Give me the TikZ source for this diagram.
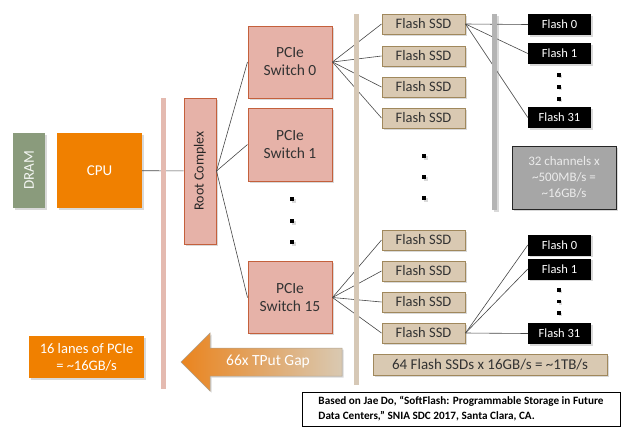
\documentclass[tikz,border=0pt]{standalone}
\usepackage{fontspec}
\setmainfont{Carlito}
\usetikzlibrary{shadows}
\definecolor{dramgreen}{RGB}{138,155,124}
\definecolor{cpuorange}{RGB}{240,128,0}
\definecolor{arroworange}{RGB}{234,132,30}
\definecolor{pcipink}{RGB}{230,178,168}
\definecolor{pciedge}{RGB}{196,96,60}
\definecolor{pinkbar}{RGB}{228,186,176}
\definecolor{ssdtan}{RGB}{217,201,178}
\definecolor{ssdedge}{RGB}{160,136,92}
\definecolor{tanbar}{RGB}{214,200,182}
\definecolor{graybar}{RGB}{180,180,180}
\definecolor{chanfill}{RGB}{166,166,166}
\definecolor{wirecol}{RGB}{70,70,70}

\begin{document}
\begin{tikzpicture}[x=1pt,y=-1pt,
  dropshade/.style={drop shadow={opacity=0.3,shadow xshift=1.5pt,shadow yshift=-1.5pt}},
  box/.style={inner sep=0pt,align=center,dropshade},
  pcie/.style={box,draw=pciedge,line width=1pt,fill=pcipink,text=black!80,
    minimum width=84pt,minimum height=72pt,font=\fontsize{15.5}{18}\selectfont},
  ssd/.style={box,draw=ssdedge,line width=1pt,fill=ssdtan,text=black!80,
    minimum width=83pt,minimum height=20pt,font=\fontsize{14.5}{16}\selectfont},
  flash/.style={box,fill=black,text=white,
    minimum width=63pt,minimum height=21pt,font=\fontsize{12.5}{14}\selectfont},
  orangebox/.style={box,fill=cpuorange,text=white},
  dotbox/.style={fill=black,inner sep=0pt,minimum size=4pt,dropshade},
  wire/.style={draw=wirecol,line width=0.6pt}]
  \useasboundingbox (0,0) rectangle (623,426);

  \node[box,fill=dramgreen,text=white!90!dramgreen,minimum width=32pt,minimum height=75pt,
    font=\fontsize{15}{17}\selectfont] (dram) at (29,170.5) {\rotatebox{90}{DRAM}};
  \node[orangebox,minimum width=85pt,minimum height=75pt,font=\fontsize{15}{17}\selectfont]
    (cpu) at (99.5,170.5) {CPU};
  \node[box,draw=pciedge,line width=1pt,fill=pcipink,text=black!85,minimum width=32pt,
    minimum height=146pt,font=\fontsize{14}{16}\selectfont] (root) at (200,171) {\rotatebox{90}{Root Complex}};

  \node[pcie] (sw0) at (290,62) {PCIe\\Switch 0};
  \node[pcie,minimum height=73pt] (sw1) at (290,144.5) {PCIe\\Switch 1};
  \node[pcie] (sw15) at (290,297.5) {PCIe\\Switch 15};
  \node[dotbox] (swdot1) at (292,199) {};
  \node[dotbox] (swdot2) at (292,221) {};
  \node[dotbox] (swdot3) at (292,242) {};

  \node[ssd] (ssd1) at (423.5,24) {Flash SSD};
  \node[ssd] (ssd2) at (423.5,56) {Flash SSD};
  \node[ssd] (ssd3) at (423.5,87) {Flash SSD};
  \node[ssd] (ssd4) at (423.5,118) {Flash SSD};
  \node[dotbox] (ssddot1) at (424,156) {};
  \node[dotbox] (ssddot2) at (424,177) {};
  \node[dotbox] (ssddot3) at (424,198) {};
  \node[ssd] (ssd5) at (423.5,240) {Flash SSD};
  \node[ssd] (ssd6) at (423.5,271) {Flash SSD};
  \node[ssd] (ssd7) at (423.5,302) {Flash SSD};
  \node[ssd] (ssd8) at (423.5,333) {Flash SSD};

  \node[flash] (fa0) at (559.5,24.5) {Flash 0};
  \node[flash] (fa1) at (559.5,53.5) {Flash 1};
  \node[dotbox,minimum size=3.5pt] (fadot1) at (559,75) {};
  \node[dotbox,minimum size=3.5pt] (fadot2) at (559,87) {};
  \node[dotbox,minimum size=3.5pt] (fadot3) at (559,99) {};
  \node[flash] (fa31) at (559.5,117.5) {Flash 31};
  \node[box,draw=black!85,line width=1pt,fill=chanfill,text=white!92!black,
    minimum width=104pt,minimum height=63pt,font=\fontsize{13}{16}\selectfont]
    (chan) at (564,177.5) {32 channels x\\\textasciitilde500MB/s =\\\textasciitilde16GB/s};

  \node[flash] (fb0) at (559.5,245) {Flash 0};
  \node[flash] (fb1) at (559.5,269) {Flash 1};
  \node[dotbox,minimum size=3.5pt] (fbdot1) at (559,290) {};
  \node[dotbox,minimum size=3.5pt] (fbdot2) at (559,301.5) {};
  \node[dotbox,minimum size=3.5pt] (fbdot3) at (559,313) {};
  \node[flash] (fb31) at (559.5,333.5) {Flash 31};

  \node[orangebox,minimum width=115pt,minimum height=42pt,font=\fontsize{14.5}{17}\selectfont]
    (lanes) at (86.5,357) {16 lanes of PCIe\\= \textasciitilde16GB/s};
  \node[ssd,minimum width=234pt,minimum height=21pt,font=\fontsize{15}{17}\selectfont]
    (total) at (490,365) {64 Flash SSDs x 16GB/s = \textasciitilde1TB/s};
  \node[draw=black,line width=1pt,fill=white,inner sep=0pt,minimum width=318pt,minimum height=34pt,
    align=left,font=\bfseries\fontsize{11.2}{15}\selectfont]
    (cite) at (461,409) {Based on Jae Do, “SoftFlash: Programmable Storage in Future\\
    Data Centers,” SNIA SDC 2017, Santa Clara, CA.};

  \shade[left color=arroworange,right color=ssdtan,dropshade,draw=ssdtan!80!black,line width=0.5pt]
    (181,362) -- (210,333) -- (210,348) -- (342,348) -- (342,376) -- (210,376) -- (210,391) -- cycle;
  \node[text=white,font=\fontsize{15.5}{18}\selectfont] (gap) at (268,362) {66x TPut Gap};

  \draw[wire] (cpu) -- (root);
  \draw[wire] (root.east) -- (sw0.west);
  \draw[wire] (root.east) -- (sw1.west);
  \draw[wire] (root.east) -- (sw15.west);
  \draw[wire] (sw0.east) -- (ssd1.west);
  \draw[wire] (sw0.east) -- (ssd2.west);
  \draw[wire] (sw0.east) -- (ssd3.west);
  \draw[wire] (sw0.east) -- (ssd4.west);
  \draw[wire] (sw15.east) -- (ssd5.west);
  \draw[wire] (sw15.east) -- (ssd6.west);
  \draw[wire] (sw15.east) -- (ssd7.west);
  \draw[wire] (sw15.east) -- (ssd8.west);
  \draw[wire] (ssd1.east) -- (fa0.west);
  \draw[wire] (ssd1.east) -- (fa1.west);
  \draw[wire] (ssd1.east) -- (fa31.west);
  \draw[wire] (ssd8.east) -- (fb0.west);
  \draw[wire] (ssd8.east) -- (fb1.west);
  \draw[wire] (ssd8.east) -- (fb31.west);

  \fill[pinkbar] (161,98) rectangle (166,389);
  \fill[tanbar] (354,14) rectangle (359,385);
  \fill[graybar,dropshade] (492,14) rectangle (497,210);
\end{tikzpicture}
\end{document}
